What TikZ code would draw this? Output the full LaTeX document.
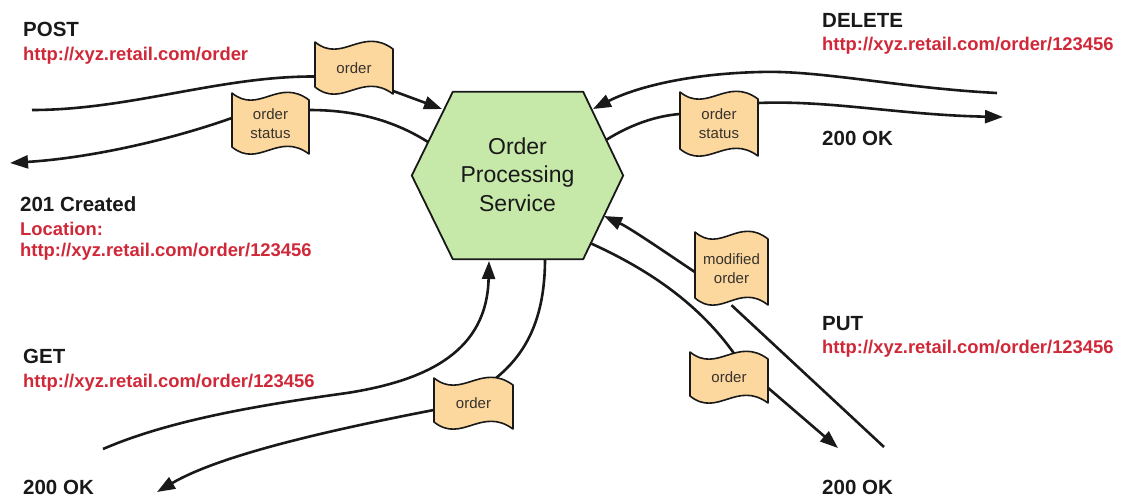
\documentclass[tikz,border=0pt]{standalone}
\usepackage{fontspec}
\setmainfont{Liberation Sans}
\usetikzlibrary{arrows.meta,calc,backgrounds}
\definecolor{flagfill}{RGB}{252,216,158}
\definecolor{hexfill}{RGB}{198,232,168}
\definecolor{urlred}{RGB}{208,40,56}
\definecolor{ink}{RGB}{25,25,25}
\definecolor{flagink}{RGB}{55,50,45}
\tikzset{
  flagshape/.style={draw=ink, line width=1.6pt, fill=flagfill, line join=round},
  flagtext/.style={inner sep=0pt, align=center, text=flagink, font=\fontsize{15}{19}\selectfont},
  hexshape/.style={draw=ink, line width=1.8pt, fill=hexfill, line join=round},
  conn/.style={draw=ink, line width=2.6pt},
  arr/.style={conn, -{Triangle[length=18pt,width=13pt]}},
  method/.style={anchor=base west, inner sep=0pt, text=ink, font=\fontsize{20.5}{24}\selectfont\bfseries},
  url/.style={anchor=base west, inner sep=0pt, text=urlred, font=\fontsize{18.4}{22}\selectfont\bfseries},
}
\newcommand{\flagbox}[6]{%
  \path[flagshape] (#2,#3) .. controls (#2+0.35*#4,#3+22) and (#2+0.6*#4,#3-16) .. (#2+#4,#3+7)
     -- (#2+#4,#3+7+#5) .. controls (#2+0.6*#4,#3+#5-16) and (#2+0.35*#4,#3+#5+22) .. (#2,#3+#5) -- cycle;
  \node[flagtext, minimum width=#4pt, minimum height=#5pt+7pt] (#1) at (#2+#4/2,#3+#5/2+3.5) {#6};
}
\begin{document}
\begin{tikzpicture}[x=1pt,y=-1pt]
\useasboundingbox (0,0) rectangle (1128,499);

% service hexagon
\node[minimum width=211pt, minimum height=167pt, inner sep=0pt] (hex) at (517.5,175.5) {};
\path[hexshape] ($(hex.west)$) -- ($(hex.north west)+(41,0)$) -- ($(hex.north east)+(-40,0)$)
   -- ($(hex.east)$) -- ($(hex.south east)+(-40,0)$) -- ($(hex.south west)+(41,0)$) -- cycle;
\node[align=center, text=ink, font=\fontsize{23}{28.5}\selectfont] (hextext) at ($(hex.center)+(0,-1)$) {Order\\Processing\\Service};

% message flags
\flagbox{f1}{315}{42}{78}{45}{order}
\flagbox{f2}{232}{93}{77}{54}{order\\status}
\flagbox{f3}{680}{92}{78}{57}{order\\status}
\flagbox{f4}{695}{232}{73}{66}{modified\\order}
\flagbox{f5}{690}{352}{78}{44}{order}
\flagbox{f6}{434}{378}{79}{44}{order}

% free ends
\coordinate (postA) at (32,110);
\coordinate (postB) at (10,163);
\coordinate (delA) at (997,93);
\coordinate (delB) at (1003,117);
\coordinate (putA) at (884,447);
\coordinate (putB) at (838,448);
\coordinate (getA) at (103,449);
\coordinate (getB) at (157,492);

\begin{scope}[on background layer]
% POST
\draw[conn] (postA) .. controls (130,110) and (220,76) .. ($(f1.west)+(0,8.5)$);
\draw[arr] ($(f1.east)+(0,23)$) -- ($(hex.center)+(-75.5,-66.5)$);
\draw[conn] ($(hex.center)+(-89.5,-33.5)$) .. controls (390,118) and (350,110) .. ($(f2.east)+(0,-13.5)$);
\draw[arr] ($(f2.west)+(0,-5.5)$) .. controls (170,140) and (90,158) .. (postB);
% DELETE
\draw[arr] (delA) .. controls (900,88) and (820,70) .. (760,72)
   .. controls (680,74) and (630,90) .. ($(hex.center)+(75.5,-66.5)$);
\draw[conn] ($(hex.center)+(88.5,-35.5)$) .. controls (630,125) and (655,116) .. ($(f3.west)+(0,-10)$);
\draw[arr] ($(f3.east)+(0,-21)$) .. controls (830,100) and (900,115) .. (delB);
% PUT
\draw[conn] (putA) -- (f4.south);
\draw[arr] ($(f4.west)+(0,3.5)$) .. controls (665,252) and (630,228) .. ($(hex.center)+(86.5,40.5)$);
\draw[conn] ($(hex.center)+(72.5,67.5)$) .. controls (650,270) and (700,305) .. ($(f5.north)+(6,3)$);
\draw[arr] ($(f5.east)+(0,10.5)$) -- (putB);
% GET
\draw[arr] (getA) .. controls (170,420) and (260,405) .. (347,393)
   .. controls (430,380) and (487,350) .. ($(hex.center)+(-28.5,85.5)$);
\draw[conn] ($(hex.center)+(27.5,83.5)$) .. controls (545,320) and (525,355) .. ($(f6.north)+(21.5,1)$);
\draw[arr] ($(f6.west)+(0,6.5)$) .. controls (330,430) and (220,455) .. (getB);
\end{scope}

% labels
\node[method] (lpost) at (23,36) {POST};
\node[url] (upost) at (23,60) {http://xyz.retail.com/order};
\node[method] (lcreated) at (20,211) {201 Created};
\node[url] (lloc) at (20,235) {Location:};
\node[url] (uloc) at (20,256) {http://xyz.retail.com/order/123456};
\node[method] (lget) at (23,363) {GET};
\node[url] (uget) at (23,387) {http://xyz.retail.com/order/123456};
\node[method] (okget) at (23,494.5) {200 OK};
\node[method] (ldel) at (822,27) {DELETE};
\node[url] (udel) at (822,50) {http://xyz.retail.com/order/123456};
\node[method] (okdel) at (822,145) {200 OK};
\node[method] (lput) at (822,330) {PUT};
\node[url] (uput) at (822,353) {http://xyz.retail.com/order/123456};
\node[method] (okput) at (822,494.5) {200 OK};
\end{tikzpicture}
\end{document}
